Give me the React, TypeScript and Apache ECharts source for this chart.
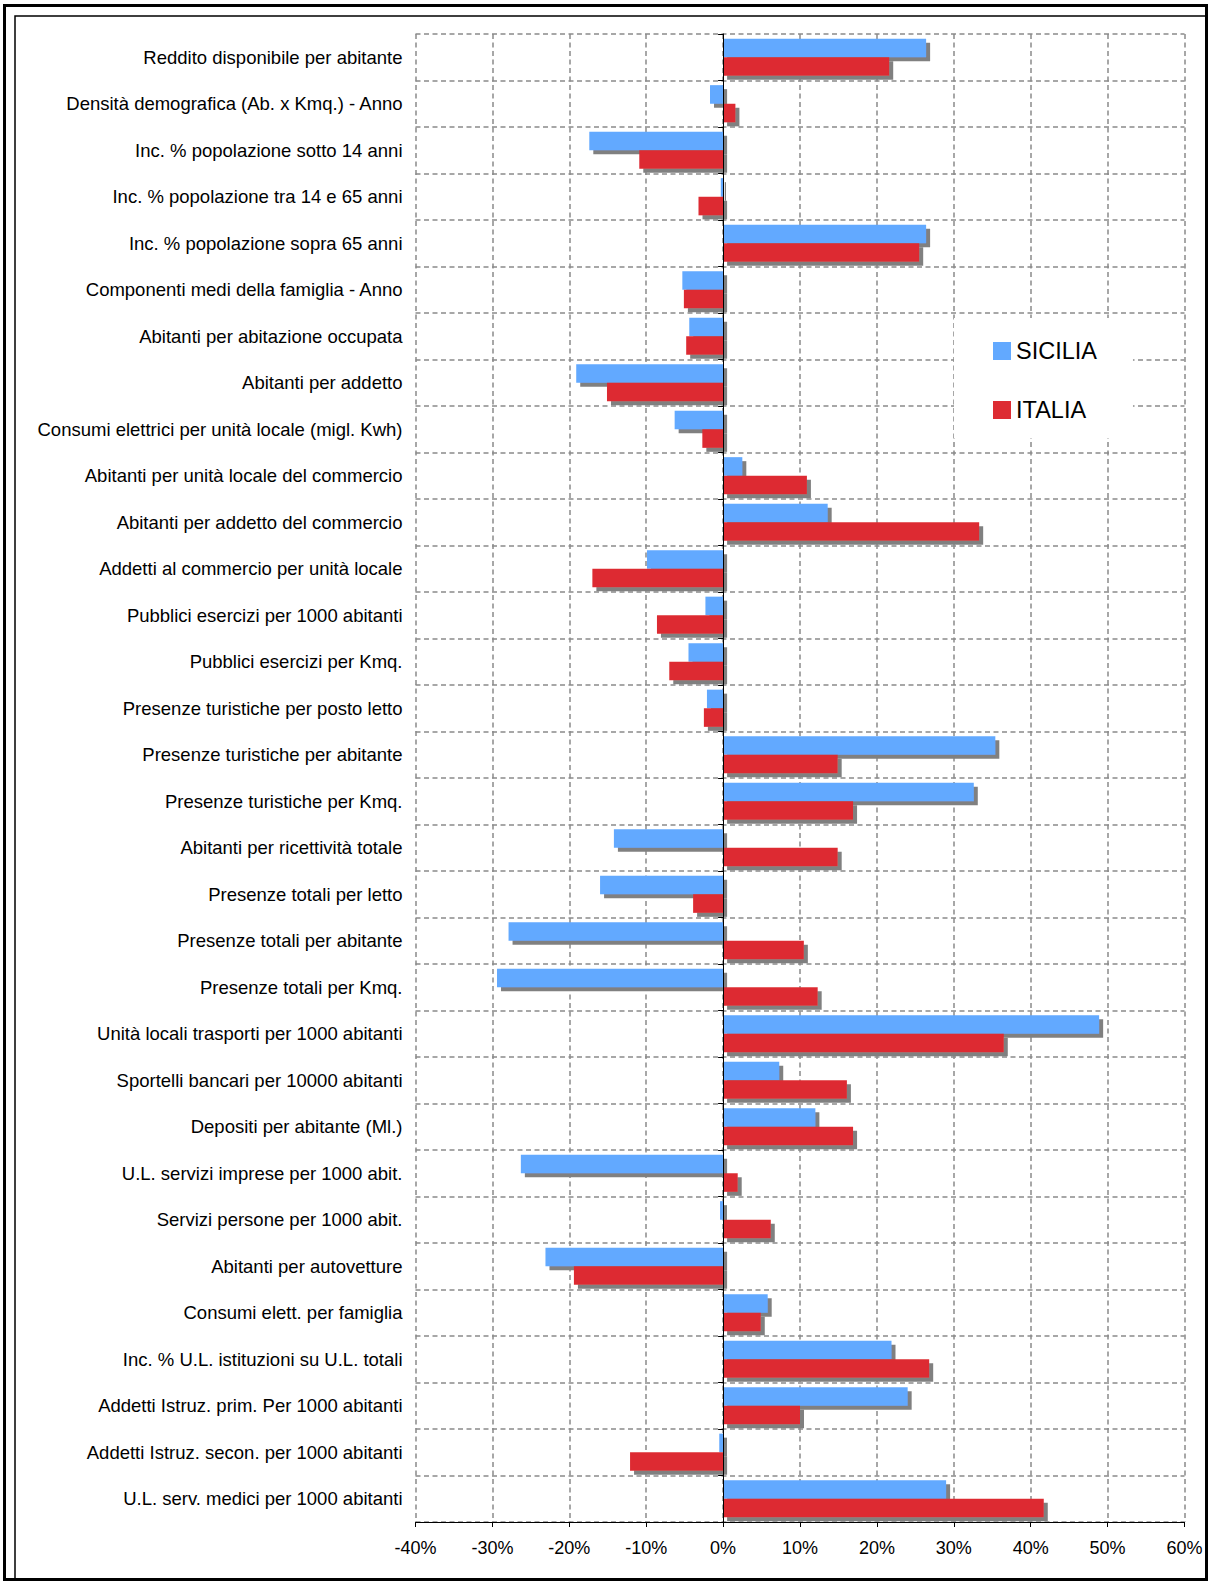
import React, { useEffect, useRef } from 'react';
import * as echarts from 'echarts';

const categories = [
  'Reddito disponibile per abitante',
  'Densità demografica (Ab. x Kmq.) - Anno',
  'Inc. % popolazione sotto 14 anni',
  'Inc. % popolazione tra 14 e 65 anni',
  'Inc. % popolazione sopra 65 anni',
  'Componenti medi della famiglia - Anno',
  'Abitanti per abitazione occupata',
  'Abitanti per addetto',
  'Consumi elettrici per unità locale (migl. Kwh)',
  'Abitanti per unità locale del commercio',
  'Abitanti per addetto del commercio',
  'Addetti al commercio per unità locale',
  'Pubblici esercizi per 1000 abitanti',
  'Pubblici esercizi per Kmq.',
  'Presenze turistiche per posto letto',
  'Presenze turistiche per abitante',
  'Presenze turistiche per Kmq.',
  'Abitanti per ricettività totale',
  'Presenze totali per letto',
  'Presenze totali per abitante',
  'Presenze totali per Kmq.',
  'Unità locali trasporti per 1000 abitanti',
  'Sportelli bancari per 10000 abitanti',
  'Depositi per abitante (Ml.)',
  'U.L. servizi imprese per 1000 abit.',
  'Servizi persone per 1000 abit.',
  'Abitanti per autovetture',
  'Consumi elett. per famiglia',
  'Inc. % U.L. istituzioni su U.L. totali',
  'Addetti Istruz. prim. Per 1000 abitanti',
  'Addetti Istruz. secon. per 1000 abitanti',
  'U.L. serv. medici per 1000 abitanti',
];

const seriesNames = ['SICILIA', 'ITALIA'];

const sicilia = [
  26.4, -1.7, -17.4, -0.3, 26.4, -5.3, -4.4, -19.1, -6.3, 2.5, 13.6, -9.9, -2.3, -4.5, -2.1, 35.4,
  32.6, -14.2, -16.0, -27.9, -29.4, 48.9, 7.3, 12.0, -26.3, -0.4, -23.1, 5.8, 21.9, 24.0, -0.5, 29.0,
];
const italia = [
  21.6, 1.6, -10.9, -3.2, 25.5, -5.1, -4.8, -15.1, -2.7, 10.9, 33.3, -17.0, -8.6, -7.0, -2.5, 14.9,
  16.9, 14.9, -3.9, 10.5, 12.3, 36.5, 16.1, 16.9, 1.9, 6.2, -19.4, 4.9, 26.8, 10.0, -12.1, 41.7,
];

const xMin = -40;
const xMax = 60;
const xInterval = 10;

const FONT = '"Liberation Sans", Arial, sans-serif';
const GRID_GRAY = '#8a8a8a';

export default function App() {
  const ref = useRef<HTMLDivElement>(null);
  useEffect(() => {
    if (!ref.current) return;
    const chart = echarts.init(ref.current, undefined, { renderer: 'svg' });
    const barShadow = {
      shadowColor: '#808080',
      shadowOffsetX: 4,
      shadowOffsetY: 4,
      shadowBlur: 0,
    };
    chart.setOption({
      animation: false,
      backgroundColor: '#ffffff',
      textStyle: { fontFamily: FONT },
      grid: { left: 415.5, right: 25.5, top: 34, bottom: 60, containLabel: false },
      legend: {
        data: seriesNames,
        orient: 'vertical',
        left: 954,
        top: 318,
        itemWidth: 18,
        itemHeight: 18,
        itemGap: 35,
        icon: 'rect',
        backgroundColor: '#ffffff',
        padding: [21, 36, 16, 39],
        textStyle: { fontSize: 23.5, color: '#000', fontFamily: FONT, lineHeight: 23 },
      },
      xAxis: {
        type: 'value',
        min: xMin,
        max: xMax,
        interval: xInterval,
        axisLine: { show: true, lineStyle: { color: '#000', width: 1 } },
        axisTick: { show: true, length: 5, lineStyle: { color: '#000' } },
        axisLabel: {
          formatter: '{value}%',
          fontSize: 18,
          color: '#000',
          margin: 17,
          fontFamily: FONT,
        },
        splitLine: {
          show: true,
          lineStyle: { color: GRID_GRAY, type: [5, 3.5], width: 1.5 },
        },
      },
      yAxis: [
        {
          type: 'category',
          data: categories,
          inverse: true,
          position: 'left',
          axisLine: { show: false, onZero: false },
          axisTick: { show: false },
          axisLabel: { fontSize: 18.5, color: '#000', margin: 13, fontFamily: FONT },
          splitLine: {
            show: true,
            lineStyle: { color: GRID_GRAY, type: [5, 3.5], width: 1.5 },
          },
        },
        {
          type: 'category',
          data: categories,
          inverse: true,
          position: 'left',
          z: 3,
          axisLine: { show: true, onZero: true, lineStyle: { color: '#000', width: 1 } },
          axisTick: { show: true, length: 5, lineStyle: { color: '#000' } },
          axisLabel: { show: false },
          splitLine: { show: false },
        },
      ],
      series: [
        {
          name: seriesNames[0],
          type: 'bar',
          yAxisIndex: 0,
          data: sicilia,
          barCategoryGap: '20%',
          barGap: '0%',
          itemStyle: { color: '#62A9FF', ...barShadow },
        },
        {
          name: seriesNames[1],
          type: 'bar',
          yAxisIndex: 0,
          data: italia,
          barCategoryGap: '20%',
          barGap: '0%',
          itemStyle: { color: '#DD2C33', ...barShadow },
        },
      ],
      graphic: [
        {
          type: 'rect',
          shape: { x: 4.5, y: 5.5, width: 1202, height: 1574 },
          style: { fill: 'none', stroke: '#000', lineWidth: 3 },
          z: 10,
        },
        {
          type: 'rect',
          shape: { x: 15, y: 16, width: 1191.5, height: 1563.5 },
          style: { fill: 'none', stroke: '#000', lineWidth: 1.5 },
          z: 10,
        },
      ],
    });
    return () => chart.dispose();
  }, []);
  return (
    <div
      ref={ref}
      style={{ position: 'absolute', left: 0, top: 0, width: 1210, height: 1582 }}
    />
  );
}
